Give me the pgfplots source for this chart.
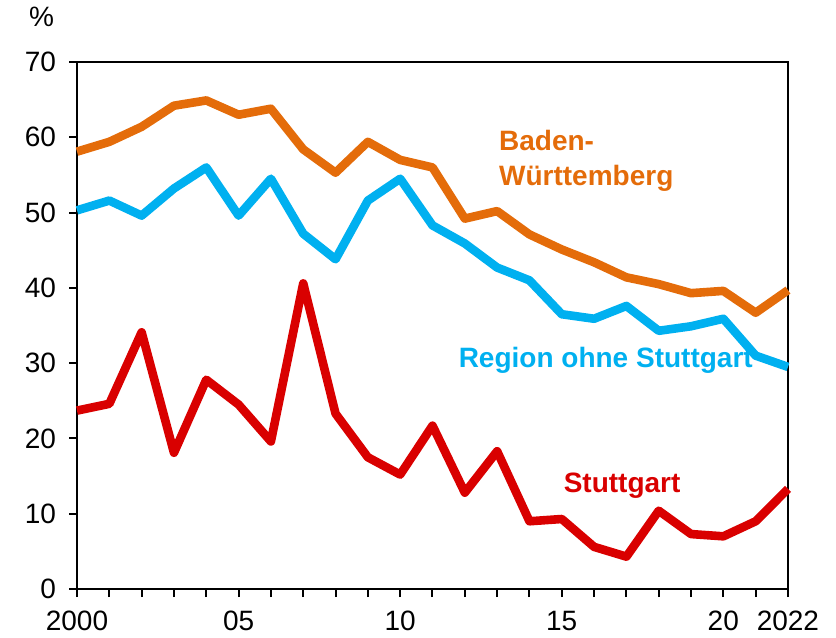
\documentclass[border=0pt]{standalone}
\usepackage{pgfplots}
\pgfplotsset{compat=1.18}
\usepackage{fontspec}
\setmainfont{Liberation Sans}
\definecolor{bworange}{HTML}{E46C0A}
\definecolor{regblue}{HTML}{00B0F0}
\definecolor{sred}{HTML}{D90000}

\pgfplotstableread{
year bw region stgt
2000 58.1 50.3 23.7
2001 59.4 51.6 24.6
2002 61.4 49.6 34.1
2003 64.2 53.2 18.1
2004 64.9 56.0 27.8
2005 63.0 49.6 24.5
2006 63.8 54.5 19.6
2007 58.4 47.2 40.6
2008 55.3 43.8 23.3
2009 59.4 51.6 17.5
2010 57.0 54.5 15.2
2011 56.0 48.3 21.7
2012 49.2 45.9 12.8
2013 50.2 42.7 18.3
2014 47.1 41.0 9.0
2015 45.1 36.5 9.3
2016 43.4 35.9 5.6
2017 41.4 37.6 4.3
2018 40.5 34.3 10.4
2019 39.3 34.9 7.3
2020 39.6 35.9 7.0
2021 36.7 31.0 9.0
2022 39.7 29.5 13.3
}\datatable

\begin{document}
\begin{tikzpicture}
\begin{axis}[
 scale only axis,width=355.5pt,height=263.5pt,
 xmin=2000,xmax=2022,ymin=0,ymax=70,
 xtick={2000,...,2022},
 xticklabels={2000,,,,,05,,,,,10,,,,,15,,,,,20,,2022},
 ytick={0,10,...,70},
 tick align=outside,tick pos=left,
 major tick length=4pt,
 axis line style={line width=1.2pt},
 every tick/.style={black,line width=1pt},
 tick label style={font=\fontsize{14}{16}\selectfont},
 /pgf/number format/assume math mode=true,
 xticklabel style={/pgf/number format/1000 sep={},yshift=-3.5pt},
 yticklabel style={xshift=-3pt},
 clip=false]
\addplot[bworange,line width=4.3pt,line join=round] table[x=year,y=bw]{\datatable};
\addplot[regblue,line width=4.3pt,line join=round] table[x=year,y=region]{\datatable};
\addplot[sred,line width=4.3pt,line join=round] table[x=year,y=stgt]{\datatable};
\begin{scope}[every node/.style={anchor=west,inner xsep=0pt}]
\node[align=left,text=bworange,font=\bfseries\fontsize{14}{17.5}\selectfont] at (axis cs:2013.05,56.9) {Baden-\\Württemberg};
\node[text=regblue,font=\bfseries\fontsize{14}{17}\selectfont] at (axis cs:2011.8,30.4) {Region ohne Stuttgart};
\node[text=sred,font=\bfseries\fontsize{14}{17}\selectfont] at (axis cs:2015.05,13.7) {Stuttgart};
\end{scope}
\node[font=\fontsize{14}{16}\selectfont] at (rel axis cs:-0.05,1.085) {\%};
\path (rel axis cs:-0.1083,-0.0911) rectangle (rel axis cs:1.0675,1.1177);
\end{axis}
\end{tikzpicture}
\end{document}
